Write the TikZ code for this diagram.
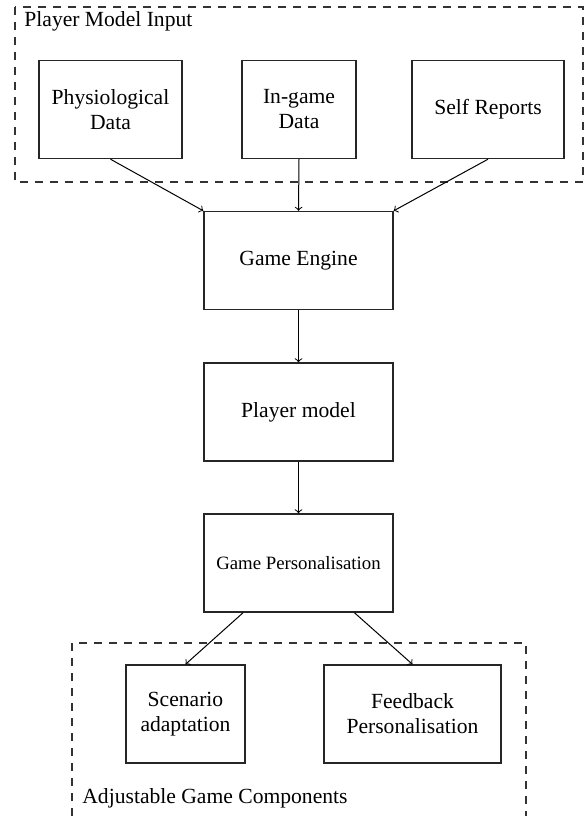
\documentclass[tikz,border=0pt]{standalone}
\usepackage{fontspec}
\setmainfont{Liberation Serif}
\tikzset{
  block/.style={draw=black!85, line width=0.7pt, align=center, minimum height=49pt, inner sep=2pt},
  group/.style={draw=black!80, line width=0.6pt, dash pattern=on 4pt off 3.5pt},
  arr/.style={->, line width=0.5pt}
}
\begin{document}
\fontsize{10.8}{12.5}\selectfont
\begin{tikzpicture}[x=0.5pt, y=-0.5pt]
      \useasboundingbox (0,0) rectangle (584,816);
      % player model input
      \draw[group] (15,7) rectangle (583,182);
      \node[anchor=west, inner sep=0pt] (inlbl) at (24,21) {Player Model Input};
      \node[block, minimum width=71.5pt] (phys) at (110.5,109.5) {Physiological\\Data};
      \node[block, minimum width=57pt] (ingame) at (299,109.5) {In-game\\Data};
      \node[block, minimum width=76pt] (self) at (488,109.5) {Self Reports};
      % pipeline
      \node[block, minimum width=94.5pt] (engine) at (298.5,260.5) {Game Engine};
      \node[block, minimum width=94.5pt] (model) at (298.5,412) {Player model};
      \node[block, minimum width=94.5pt, font=\fontsize{9.4}{11}\selectfont] (pers) at (298.5,563) {Game Personalisation};
      \draw[arr] (phys.south) to (engine.north west);
      \draw[arr] (ingame.south) to (engine.north);
      \draw[arr] (self.south) to (engine.north east);
      \draw[arr] (engine) to (model);
      \draw[arr] (model) to (pers);
      % adjustable components
      \draw[group] (72,816) -- (72,643) -- (526,643) -- (526,816);
      \node[anchor=west, inner sep=0pt] (outlbl) at (82,798) {Adjustable Game Components};
      \node[block, minimum width=59.5pt] (scen) at (185.5,714) {Scenario\\adaptation};
      \node[block, minimum width=88.5pt] (feed) at (412.5,714) {Feedback\\Personalisation};
      \draw[arr] (pers) to (scen.north);
      \draw[arr] (pers) to (feed.north);
    \end{tikzpicture}
\end{document}
